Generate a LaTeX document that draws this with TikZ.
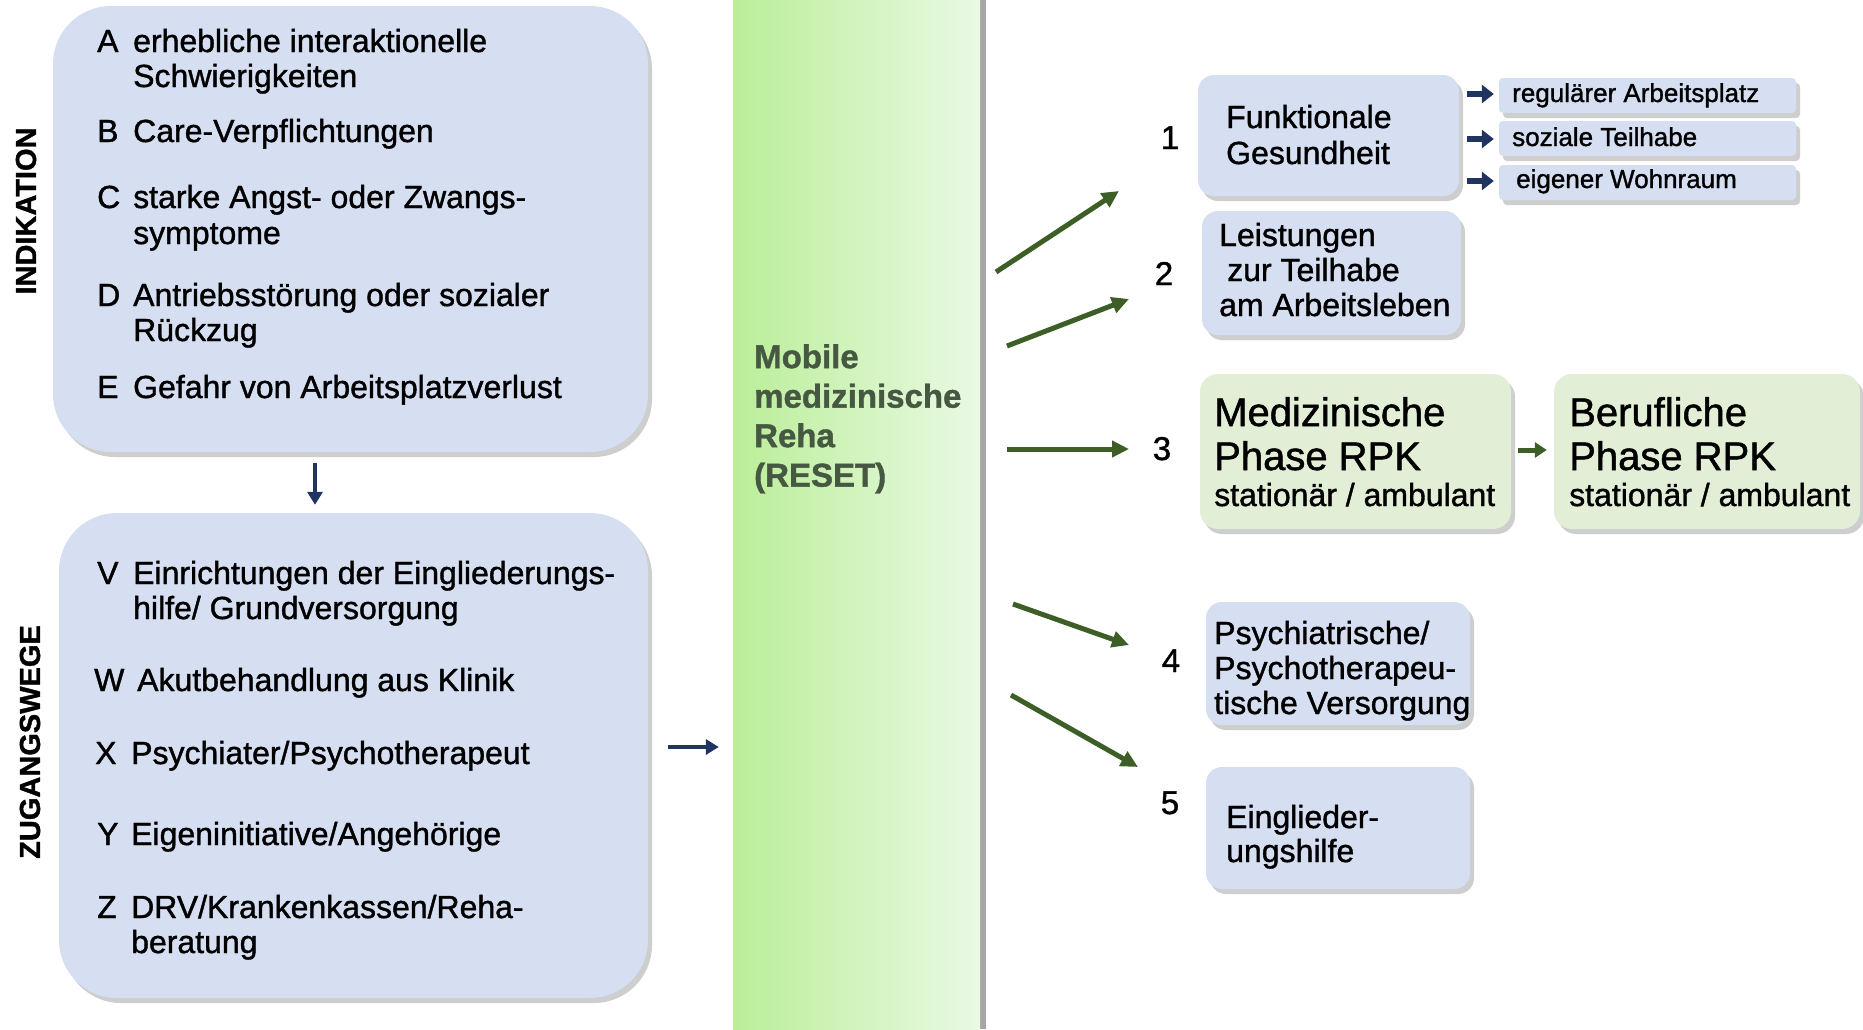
\documentclass[tikz,border=0pt]{standalone}
\usepackage{fontspec}
\setmainfont{Liberation Sans}[RawFeature={embolden=1.2}]
\usetikzlibrary{arrows.meta,shadows}
\definecolor{boxblue}{RGB}{214,222,241}
\definecolor{boxgreen}{RGB}{226,238,214}
\definecolor{colA}{RGB}{186,238,152}
\definecolor{colB}{RGB}{234,249,228}
\definecolor{navy}{RGB}{31,52,96}
\definecolor{dgreen}{RGB}{61,94,39}
\definecolor{rtext}{RGB}{70,88,66}
\tikzset{
  shad/.style={drop shadow={shadow xshift=4pt,shadow yshift=-5pt,opacity=0.35,fill=black!55}},
  lbox/.style={shad,fill=boxblue,rounded corners=58pt,inner sep=0pt},
  rbox/.style={shad,fill=boxblue,rounded corners=16pt,inner sep=0pt},
  gbox/.style={shad,fill=boxgreen,rounded corners=18pt,inner sep=0pt},
  sbox/.style={shad,fill=boxblue,rounded corners=4pt,inner sep=0pt},
  txt/.style={inner sep=0pt,anchor=base west,font=\fontsize{32}{35}\selectfont},
  stxt/.style={inner sep=0pt,anchor=base west,font=\fontsize{26}{28}\selectfont},
  big/.style={inner sep=0pt,anchor=base west,font=\fontsize{40}{44}\selectfont},
  num/.style={inner sep=0pt,anchor=base,font=\fontsize{33}{36}\selectfont},
  vlabel/.style={inner sep=0pt,rotate=90,font=\fontsize{29}{32}\selectfont\bfseries},
  barrow/.style={navy,line width=4.5pt,-{Triangle[length=13pt,width=15pt]}},
  sarrow/.style={navy,line width=5.5pt,-{Triangle[length=12pt,width=18pt]}},
  garrow/.style={dgreen,line width=5pt,-{Triangle[length=17pt,width=16pt]}},
}
\begin{document}
\begin{tikzpicture}[x=1pt,y=-1pt]
\useasboundingbox (0,0) rectangle (1863,1029);
\fill[white] (0,0) rectangle (1863,1029);

% green column
\fill[black!35] (979,0) rectangle (986,1029);
\node[inner sep=0pt,minimum width=247pt,minimum height=1029pt,left color=colA,right color=colB,draw=none] (reset) at (856.5,514.5) {};
\node[inner sep=0pt,anchor=north west,align=left,text=rtext,font=\fontsize{33}{39.5}\selectfont\bfseries] (resettxt) at (754,344) {Mobile\\medizinische\\Reha\\(RESET)};

% left boxes
\node[lbox,minimum width=595pt,minimum height=446pt] (indik) at (350.5,229) {};
\node[lbox,minimum width=589pt,minimum height=485pt] (zug) at (353.5,755.5) {};
\node[vlabel] (lind) at (26,211) {INDIKATION};
\node[vlabel] (lzug) at (30,742) {ZUGANGSWEGE};

% indikation items
\node[txt] (ka) at (97,52) {A};
\node[txt] (ta1) at (133,52) {erhebliche interaktionelle};
\node[txt] (ta2) at (133,87) {Schwierigkeiten};
\node[txt] (kb) at (97,142) {B};
\node[txt] (tb1) at (133,142) {Care-Verpflichtungen};
\node[txt] (kc) at (97,208) {C};
\node[txt] (tc1) at (133,208) {starke Angst- oder Zwangs-};
\node[txt] (tc2) at (133,244) {symptome};
\node[txt] (kd) at (97,306) {D};
\node[txt] (td1) at (133,306) {Antriebsstörung oder sozialer};
\node[txt] (td2) at (133,341) {Rückzug};
\node[txt] (ke) at (97,398) {E};
\node[txt] (te1) at (133,398) {Gefahr von Arbeitsplatzverlust};

% zugangswege items
\node[txt] (kv) at (97,584) {V};
\node[txt] (tv1) at (133,584) {Einrichtungen der Eingliederungs-};
\node[txt] (tv2) at (133,619) {hilfe/ Grundversorgung};
\node[txt] (kw) at (94,691) {W};
\node[txt] (tw1) at (137,691) {Akutbehandlung aus Klinik};
\node[txt] (kx) at (95,764) {X};
\node[txt] (tx1) at (131,764) {Psychiater/Psychotherapeut};
\node[txt] (ky) at (97,845) {Y};
\node[txt] (ty1) at (131,845) {Eigeninitiative/Angehörige};
\node[txt] (kz) at (97,918) {Z};
\node[txt] (tz1) at (131,918) {DRV/Krankenkassen/Reha-};
\node[txt] (tz2) at (131,953) {beratung};

% blue arrows left
\draw[barrow,shorten <=11pt,shorten >=8pt] (indik.south -| 315,0) -- (zug.north -| 315,0);
\coordinate (zr) at (zug.east |- 0,747);
\coordinate (cl) at (reset.west |- 0,747);
\draw[barrow,shorten <=20pt,shorten >=14pt] (zr) -- (cl);

% right boxes
\node[rbox,minimum width=261pt,minimum height=121pt] (f1) at (1328.5,135.5) {};
\node[sbox,minimum width=297pt,minimum height=35pt] (s1) at (1647.5,95.5) {};
\node[sbox,minimum width=297pt,minimum height=35pt] (s2) at (1647.5,138.5) {};
\node[sbox,minimum width=297pt,minimum height=35pt] (s3) at (1647.5,182.5) {};
\node[rbox,minimum width=259pt,minimum height=124pt] (f2) at (1331.5,273) {};
\node[gbox,minimum width=311pt,minimum height=155pt] (f3) at (1355.5,451.5) {};
\node[gbox,minimum width=306pt,minimum height=155pt] (f3b) at (1707,451.5) {};
\node[rbox,minimum width=264pt,minimum height=123pt] (f4) at (1338,663.5) {};
\node[rbox,minimum width=264pt,minimum height=122pt] (f5) at (1338,828) {};

% numbers
\node[num] (n1) at (1170,149) {1};
\node[num] (n2) at (1164,285) {2};
\node[num] (n3) at (1162,460) {3};
\node[num] (n4) at (1171,672) {4};
\node[num] (n5) at (1170,814) {5};

% box texts
\node[txt] (t11) at (1226,128) {Funktionale};
\node[txt] (t12) at (1226,164) {Gesundheit};
\node[stxt] (ts1) at (1512,102) {regulärer Arbeitsplatz};
\node[stxt] (ts2) at (1512,146) {soziale Teilhabe};
\node[stxt] (ts3) at (1516,188) {eigener Wohnraum};
\node[txt] (t21) at (1219,246) {Leistungen};
\node[txt] (t22) at (1227,281) {zur Teilhabe};
\node[txt] (t23) at (1219,316) {am Arbeitsleben};
\node[big] (t31) at (1214,426) {Medizinische};
\node[big] (t32) at (1214,470) {Phase RPK};
\node[txt] (t33) at (1214,506) {stationär / ambulant};
\node[big] (t3b1) at (1569,426) {Berufliche};
\node[big] (t3b2) at (1569,470) {Phase RPK};
\node[txt] (t3b3) at (1569,506) {stationär / ambulant};
\node[txt] (t41) at (1214,644) {Psychiatrische/};
\node[txt] (t42) at (1214,679) {Psychotherapeu-};
\node[txt] (t43) at (1214,714) {tische Versorgung};
\node[txt] (t51) at (1226,828) {Einglieder-};
\node[txt] (t52) at (1226,862) {ungshilfe};

% small arrows to sub boxes
\draw[sarrow] ([xshift=8pt]f1.east |- 0,94) -- ([xshift=-5pt]s1.west |- 0,94);
\draw[sarrow] ([xshift=8pt]f1.east |- 0,139) -- ([xshift=-5pt]s2.west |- 0,139);
\draw[sarrow] ([xshift=8pt]f1.east |- 0,181) -- ([xshift=-5pt]s3.west |- 0,181);

% arrow between phase boxes
\draw[dgreen,line width=5pt,-{Triangle[length=12pt,width=15pt]},shorten <=7pt,shorten >=7pt] (f3.east |- 0,450) -- (f3b.west |- 0,450);

% green arrows from column
\coordinate (g1s) at (996,272);  \coordinate (g1e) at (1119,191);
\coordinate (g2s) at (1007,346); \coordinate (g2e) at (1129,299);
\coordinate (g3s) at (1007,449); \coordinate (g3e) at (1129,449);
\coordinate (g4s) at (1013,604); \coordinate (g4e) at (1129,645);
\coordinate (g5s) at (1011,695); \coordinate (g5e) at (1138,767);
\draw[garrow] (g1s) -- (g1e);
\draw[garrow] (g2s) -- (g2e);
\draw[garrow] (g3s) -- (g3e);
\draw[garrow] (g4s) -- (g4e);
\draw[garrow] (g5s) -- (g5e);
\end{tikzpicture}
\end{document}
